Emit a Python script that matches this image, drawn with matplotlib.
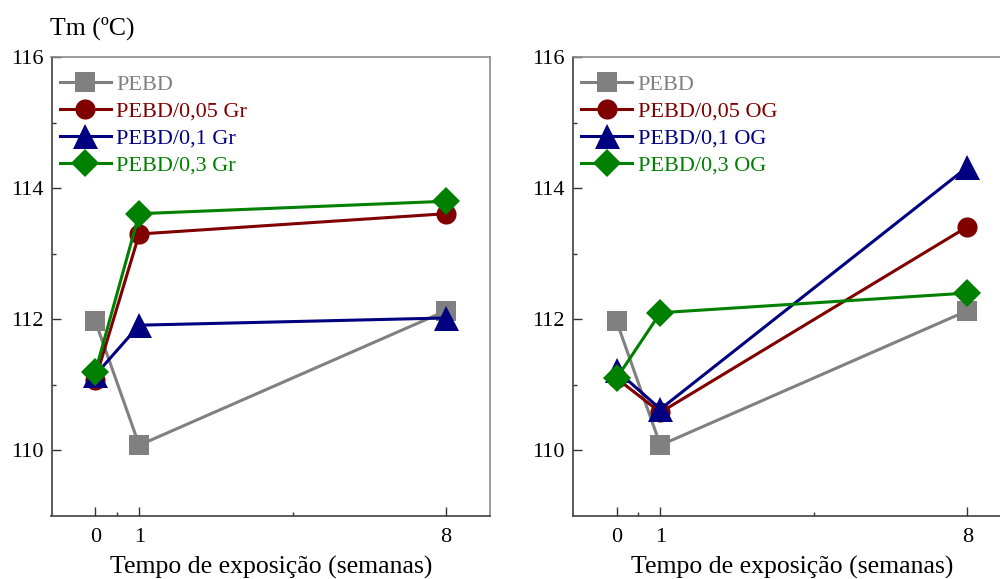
import matplotlib
matplotlib.use("Agg")
import matplotlib.pyplot as plt
from matplotlib.ticker import FixedLocator

plt.rcParams['font.family'] = ['Liberation Serif', 'DejaVu Serif']

# Exposure time (weeks)
weeks = [0, 1, 8]

# Melting temperature Tm (°C)
pebd = [111.97, 110.08, 112.13]
gr_005 = [111.08, 113.30, 113.61]
gr_01 = [111.15, 111.91, 112.02]
gr_03 = [111.20, 113.61, 113.80]
og_005 = [111.10, 110.58, 113.41]
og_01 = [111.22, 110.63, 114.32]
og_03 = [111.10, 112.10, 112.40]

labels_gr = ['PEBD', 'PEBD/0,05 Gr', 'PEBD/0,1 Gr', 'PEBD/0,3 Gr']
labels_og = ['PEBD', 'PEBD/0,05 OG', 'PEBD/0,1 OG', 'PEBD/0,3 OG']

colors = ['#808080', '#800000', '#000080', '#008000']
markers = ['s', 'o', '^', 'D']
msizes = [14, 14.5, 18, 14]

x_major = [0, 1, 8]
x_minor = [0.5, 4.5]
y_major = [110, 112, 114, 116]
y_minor = [111, 113, 115]

fig = plt.figure(figsize=(10, 5.79), dpi=100)
ax1 = fig.add_axes([0.0515, 0.1088, 0.4385, 0.7928])
ax2 = fig.add_axes([0.5727, 0.1088, 0.4385, 0.7928])


def draw_panel(ax, series, labels):
    for ys, lab, c, m, ms in zip(series, labels, colors, markers, msizes):
        ax.plot(weeks, ys, color=c, marker=m, markersize=ms, linewidth=2.2,
                markeredgewidth=0, label=lab, clip_on=False)
    ax.set_xlim(-1, 9)
    ax.set_ylim(109, 116)
    ax.xaxis.set_major_locator(FixedLocator(x_major))
    ax.xaxis.set_minor_locator(FixedLocator(x_minor))
    ax.yaxis.set_major_locator(FixedLocator(y_major))
    ax.yaxis.set_minor_locator(FixedLocator(y_minor))
    ax.tick_params(which='both', direction='in', labelsize=16, colors='#333333',
                   labelcolor='black')
    ax.tick_params(which='major', length=6.5, width=1)
    ax.tick_params(which='minor', length=3, width=1)
    ax.tick_params(axis='x', which='major', pad=8.5)
    ax.tick_params(axis='y', which='major', pad=6)
    for side in ('left', 'bottom'):
        ax.spines[side].set_color('#404040')
        ax.spines[side].set_linewidth(1.2)
    for side in ('top', 'right'):
        ax.spines[side].set_color('#8a8a8a')
        ax.spines[side].set_linewidth(1.2)
    ax.set_xlabel('Tempo de exposição (semanas)', fontsize=18.5, labelpad=6.5)
    leg = ax.legend(loc='upper left', bbox_to_anchor=(0.019, 0.962),
                    frameon=False, fontsize=16, handlelength=2.3,
                    handletextpad=0.25, labelspacing=0.28, borderpad=0,
                    borderaxespad=0)
    for txt, c in zip(leg.get_texts(), colors):
        txt.set_color(c)


draw_panel(ax1, [pebd, gr_005, gr_01, gr_03], labels_gr)
draw_panel(ax2, [pebd, og_005, og_01, og_03], labels_og)

fig.text(0.05, 0.951, 'Tm (ºC)', fontsize=18.5, ha='left', va='center')

fig.savefig('out.png', dpi=100)
